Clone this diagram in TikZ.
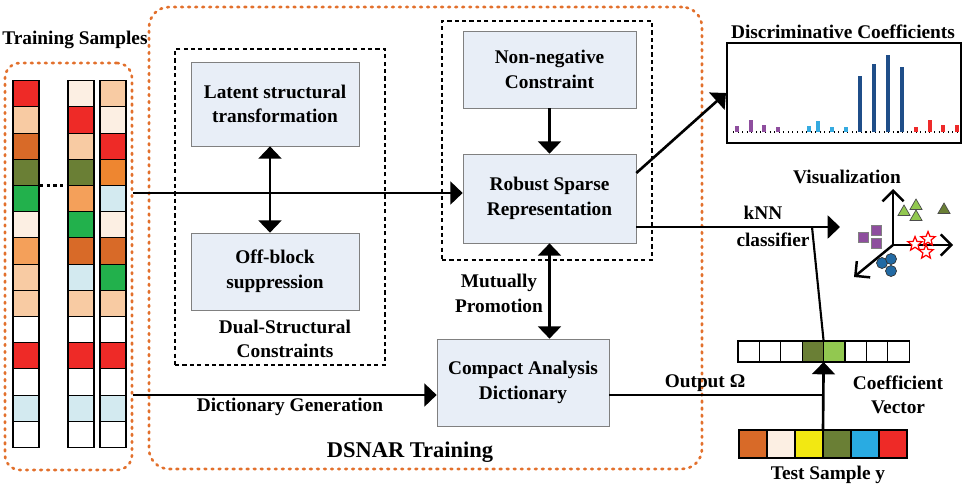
\documentclass[tikz,border=0pt]{standalone}
\usepackage{fontspec}
\setmainfont{Liberation Serif}
\usetikzlibrary{arrows.meta,shapes.geometric}

\definecolor{boxfill}{HTML}{E8EEF7}
\definecolor{boxline}{HTML}{808080}
\definecolor{frameorange}{HTML}{E2702C}
\definecolor{cR}{HTML}{EE2A27}
\definecolor{cP}{HTML}{F8CBA3}
\definecolor{cD}{HTML}{D86A28}
\definecolor{cO}{HTML}{6A7F35}
\definecolor{cG}{HTML}{22B14C}
\definecolor{cL}{HTML}{FCEFE3}
\definecolor{cA}{HTML}{F4A05A}
\definecolor{cE}{HTML}{EE8630}
\definecolor{cB}{HTML}{D3EAF0}
\definecolor{cY}{HTML}{F2E812}
\definecolor{cS}{HTML}{29ABE2}
\definecolor{cLG}{HTML}{92C850}
\definecolor{barpurple}{HTML}{8E4E9E}
\definecolor{barlight}{HTML}{35AAE0}
\definecolor{bardark}{HTML}{1F4E89}
\definecolor{barred}{HTML}{EE2A2A}

\tikzset{
  block/.style={draw=boxline, fill=boxfill, align=center, inner sep=2pt},
  arr/.style={line width=1.5pt, -{Triangle[length=7pt,width=13pt]}},
  darr/.style={line width=1.5pt, {Triangle[length=7pt,width=13pt]}-{Triangle[length=7pt,width=13pt]}},
  line/.style={line width=1.5pt},
  frame/.style={draw, line width=1.3pt, dash pattern=on 2.4pt off 1.8pt},
  orframe/.style={draw=frameorange, line width=1.5pt, dash pattern=on 1pt off 3pt,
    line cap=round, rounded corners=0.4cm},
  cell/.style={draw, line width=0.6pt, inner sep=0pt, outer sep=0pt},
  bar/.style={line width=2pt},
  axis/.style={line width=1.4pt, -{Straight Barb[length=6pt,width=12pt]}},
  lbl/.style={align=center},
}

\begin{document}
\begin{tikzpicture}[x=0.02cm, y=-0.02cm, font=\bfseries\fontsize{11}{14}\selectfont]
  \useasboundingbox (0,0) rectangle (962,487);

  % training samples
  \node (ttl) at (75,40) {Training Samples};
  \node[orframe, minimum width=2.54cm, minimum height=8.14cm, rounded corners=0.3cm] (trn) at (68.5,266.5) {};
  \foreach \c [count=\i from 0] in {cR,cP,cD,cO,cG,cL,cA,cP,cP,white,cR,white,cB,white}
    \filldraw[fill=\c, line width=0.6pt] (13,80.7+\i*26.2) rectangle ++(26,26.2);
  \foreach \c [count=\i from 0] in {cL,cR,cP,cO,cA,cG,cD,cB,cP,white,cR,white,cB,white}
    \filldraw[fill=\c, line width=0.6pt] (68,80.7+\i*26.2) rectangle ++(26,26.2);
  \foreach \c [count=\i from 0] in {cP,cL,cR,cE,cB,cL,cD,cG,cP,white,cR,white,cB,white}
    \filldraw[fill=\c, line width=0.6pt] (100,80.7+\i*26.2) rectangle ++(26,26.2);
  \draw[line width=1.5pt, dash pattern=on 1.8pt off 2pt] (40,185.5) -- (67,185.5);

  % DSNAR training
  \node[orframe, minimum width=11.06cm, minimum height=9.24cm] (dsn) at (425.5,238) {};
  \node[frame, minimum width=4.2cm, minimum height=6.32cm] (dsf) at (280,207) {};
  \node[frame, minimum width=4.2cm, minimum height=4.78cm] (rsf) at (547,140.5) {};

  \node[block, minimum width=3.36cm, minimum height=1.68cm] (lst) at (275,104) {Latent structural\\transformation};
  \node[block, minimum width=3.36cm, minimum height=1.54cm] (obs) at (275,271.5) {Off-block\\suppression};
  \node[lbl] (dsc) at (285,339) {Dual-Structural\\Constraints};
  \draw[darr] ([xshift=-0.1cm]lst.south) -- ([xshift=-0.1cm]obs.north);

  \node[block, minimum width=3.46cm, minimum height=1.54cm] (nnc) at (549.5,69.5) {Non-negative\\Constraint};
  \node[block, minimum width=3.46cm, minimum height=1.78cm] (rsr) at (549.5,198.5) {Robust Sparse\\Representation};
  \node[block, minimum width=3.44cm, minimum height=1.74cm] (cad) at (523,382.5) {Compact Analysis\\Dictionary};
  \draw[arr] (nnc.south) -- (rsr.north);
  \draw[darr] (rsr.south) -- (rsr.south |- cad.north);
  \node[lbl] (mp) at (499,293.5) {Mutually\\Promotion};

  \coordinate (tin) at (trn.east |- 0,193);
  \coordinate (din) at (trn.east |- 0,395);
  \draw[arr] (tin) -- (tin -| rsr.west);
  \draw[arr] (din) -- (din -| cad.west);
  \node (dg) at (290,407) {Dictionary Generation};
  \node[font=\bfseries\fontsize{12.8}{15}\selectfont] (dt) at (410,452) {DSNAR Training};

  % discriminative coefficients
  \node (dct) at (843,32) {Discriminative Coefficients};
  \node[draw, line width=1.2pt, minimum width=4.68cm, minimum height=2cm] (dcf) at (844,93) {};
  \draw[dotted, line width=0.6pt] (733,132) -- (958,132);
  \foreach \x/\t in {737/126, 751/120, 764/125, 778/127}
    \draw[bar, barpurple] (\x,132) -- (\x,\t);
  \foreach \x/\t in {809/126, 818/121, 832/127, 846/127}
    \draw[bar, barlight] (\x,132) -- (\x,\t);
  \foreach \x/\t in {860/76, 874/64, 888/55, 902/67}
    \draw[bar, bardark] (\x,132) -- (\x,\t);
  \foreach \x/\t in {916/127, 930/120, 943/125, 957/125}
    \draw[bar, barred] (\x,132) -- (\x,\t);
  \draw[arr] (rsr.east |- 0,173) -- (dcf.west);

  % visualization
  \node (vis) at (847,177) {Visualization};
  \coordinate (vo) at (893,245);
  \draw[axis] (vo) -- (893,189);
  \draw[axis] (vo) -- (953,245);
  \draw[axis] (vo) -- (854,277);
  \foreach \p [count=\i] in {(876,230), (876,243), (863,237)}
    \node[draw=gray, fill=barpurple, minimum size=0.2cm, inner sep=0pt] (sq\i) at \p {};
  \foreach \p [count=\i] in {(904,212), (916,206), (916,217)}
    \node[regular polygon, regular polygon sides=3, draw=black!70, fill=cLG, minimum size=0.28cm, inner sep=0pt] (tr\i) at \p {};
  \node[regular polygon, regular polygon sides=3, draw=black!70, fill=cO, minimum size=0.28cm, inner sep=0pt] (tr4) at (944,210) {};
  \foreach \p [count=\i] in {(882,263), (891,259), (891,271)}
    \node[circle, draw=black!80, fill=bardark!70!cS, minimum size=0.22cm, inner sep=0pt] (ci\i) at \p {};
  \foreach \p [count=\i] in {(915,244), (928,239), (926,252)}
    \node[star, star points=5, star point ratio=2.3, draw=red, fill=white, line width=0.7pt, minimum size=0.3cm, inner sep=0pt] (st\i) at \p {};

  % knn classifier and coefficient vector
  \coordinate (kin) at (rsr.east |- 0,227);
  \draw[arr] (kin) -- (840,227);
  \node (knn) at (763,213) {kNN};
  \node (cls) at (773,240) {classifier};
  \foreach \c [count=\i from 0] in {white,white,white,cO,cLG,white,white,white}
    \node[cell, fill=\c, minimum width=0.428cm, minimum height=0.42cm] (cv\i) at (738+21.4*\i+10.7,351.5) {};
  \draw[line width=1.2pt] (cv3.north east) -- (812,227);
  \node[lbl] (cfv) at (898,395) {Coefficient\\Vector};

  \foreach \c [count=\i from 0] in {cD,cL,cY,cO,cS,cR}
    \node[cell, fill=\c, minimum width=0.56cm, minimum height=0.56cm] (ts\i) at (739+28*\i+14,444) {};
  \node (tsy) at (828,475) {Test Sample y};

  \coordinate (jn) at (cv3.south east |- din);
  \draw[line] (cad.east |- din) -- (jn);
  \draw[arr] (ts2.north east) -- (cv3.south east);
  \node (out) at (705,383) {Output Ω};
\end{tikzpicture}
\end{document}
